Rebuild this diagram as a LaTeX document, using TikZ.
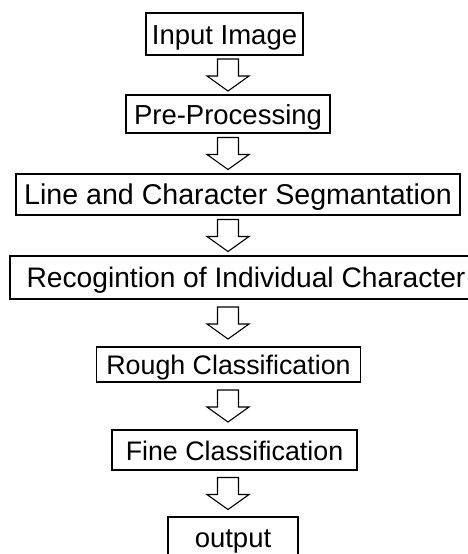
\documentclass[tikz,border=0pt]{standalone}
\usepackage{fontspec}
\setmainfont{Liberation Sans}
\usetikzlibrary{calc}
\newcommand{\boxfont}[1]{\fontsize{#1}{#1}\selectfont}
\tikzset{stage/.style={ % one step of the process
           draw,
           line width=1.1pt,
           font=\boxfont{27.5},
           text height=23pt,
           text depth=3pt,
           inner sep=0pt},
         blockarrow/.style={ % hollow arrow half way between two steps
           draw,
           line width=1.1pt,
           to path={let \p1=($(\tikztostart.south)!.5!(\tikztotarget.north)$) in
             (217.5pt,\y1+16pt) -- (238.5pt,\y1+16pt) -- (238.5pt,\y1-1pt)
             -- (249pt,\y1-1pt) -- (228pt,\y1-16pt) -- (207pt,\y1-1pt)
             -- (217.5pt,\y1-1pt) -- cycle}}}

\begin{document}
\begin{tikzpicture}[x=1pt,y=-1pt]
\useasboundingbox (0,0) rectangle (468,554);
\begin{scope}[every node/.style={stage}]
    \node[minimum width=157, minimum height=42] (inp) at (224.5,34) {Input Image};
    \node[minimum width=204, minimum height=38] (pre) at (228,114) {Pre-Processing};
    \node[minimum width=444, minimum height=41, font=\boxfont{28.6}] (seg) at (238,194.5) {Line and Character Segmantation};
    \node[minimum width=472, minimum height=43, font=\boxfont{28.2}] (rec) at (246,277.5) {Recogintion of Individual Character};
    \node[minimum width=264, minimum height=35, font=\boxfont{26.8}] (rough) at (228.5,364.5) {Rough Classification};
    \node[minimum width=245, minimum height=40, font=\boxfont{26.8}] (fine) at (234.5,450) {Fine Classification};
    \node[minimum width=130, minimum height=40] (out) at (233,537) {output};
\end{scope}

\begin{scope}[every edge/.style={blockarrow}]
    \path (inp) edge (pre);
    \path (pre) edge (seg);
    \path (seg) edge (rec);
    \path (rec) edge (rough);
    \path (rough) edge (fine);
    \path (fine) edge (out);
\end{scope}
\end{tikzpicture}
\end{document}
